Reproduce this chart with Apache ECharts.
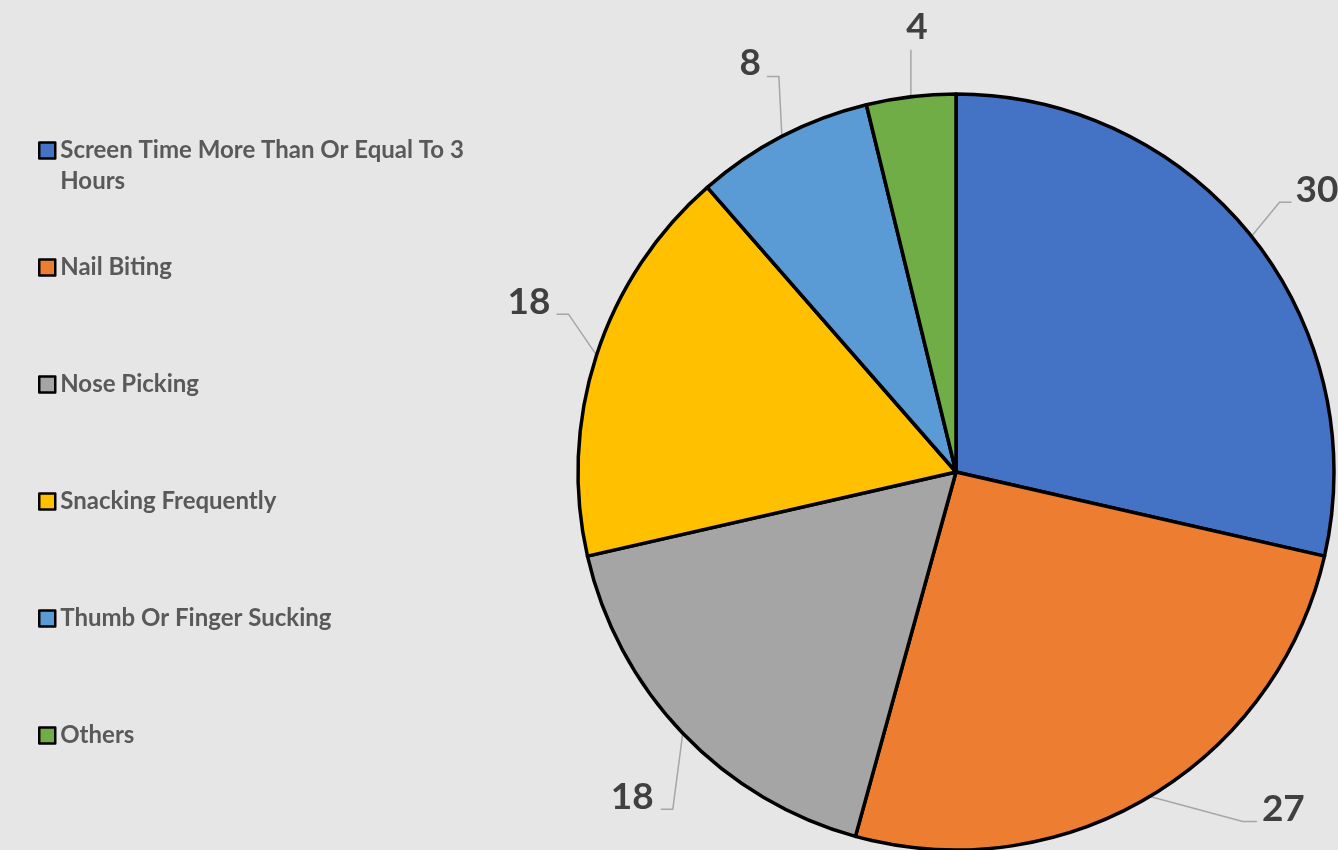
<!DOCTYPE html>
<html>
<head>
<meta charset="utf-8">
<script src="https://cdn.jsdelivr.net/npm/echarts@6/dist/echarts.min.js"></script>
<style>
html,body{margin:0;padding:0;background:#e6e6e6;}
#chart{width:1338px;height:850px;}
</style>
</head>
<body>
<div id="chart"></div>
<script>
// ---- data ----
const categories = [
  'Screen Time More Than Or Equal To 3 Hours',
  'Nail Biting',
  'Nose Picking',
  'Snacking Frequently',
  'Thumb Or Finger Sucking',
  'Others'
];
const values = [30, 27, 18, 18, 8, 4];
const colors = ['#4472C4', '#ED7D31', '#A5A5A5', '#FFC000', '#5B9BD5', '#70AD47'];

// label leader-line styling: knee offset from slice edge, horizontal tail, text offset, alignment
const labelStyleOffsets = [
  {knee: [28, -34], tail: 12, text: [4, -12], align: 'left'},
  {knee: [93, 25], tail: 14, text: [5, -12], align: 'left'},
  {knee: [-10, 76], tail: -12, text: [-7, -12], align: 'right'},
  {knee: [-28, -41], tail: -12, text: [-6, -12], align: 'right'},
  {knee: [-3, -60], tail: -12, text: [-6, -13], align: 'right'},
  {knee: [0, -47], tail: 0, text: [6, -23], align: 'center'}
];

const LH = 31;
const chart = echarts.init(document.getElementById('chart'), null, {renderer: 'canvas'});
chart.setOption({
  backgroundColor: '#e6e6e6',
  animation: false,
  color: colors,
  legend: {
    orient: 'vertical',
    left: 38,
    top: 104,
    padding: 0,
    itemGap: 24,
    itemWidth: 16,
    itemHeight: 16,
    icon: 'rect',
    itemStyle: {borderColor: '#000', borderWidth: 2.5},
    selectedMode: false,
    // a blank first line keeps every item three lines tall, so the icon sits beside the first text line
    formatter: function (name) {
      return name === categories[0] ? '\n' + name : '\n' + name + '\n\u00a0';
    },
    textStyle: {
      fontFamily: 'Lato',
      fontWeight: 'bold',
      fontSize: 24,
      color: '#595959',
      lineHeight: LH,
      width: 430,
      overflow: 'break'
    },
    data: categories
  },
  series: [{
    type: 'pie',
    center: [956, 472],
    radius: 378,
    startAngle: 90,
    clockwise: true,
    avoidLabelOverlap: false,
    emphasis: {disabled: true},
    itemStyle: {borderColor: '#000', borderWidth: 3.5},
    label: {
      show: true,
      position: 'outside',
      formatter: '{c}',
      fontFamily: 'Lato',
      fontWeight: 'bold',
      fontSize: 37,
      color: '#404040'
    },
    labelLine: {
      show: true,
      length: 20,
      length2: 10,
      lineStyle: {color: '#a6a6a6', width: 1.5}
    },
    labelLayout: function (params) {
      const o = labelStyleOffsets[params.dataIndex];
      const pts = params.labelLinePoints;
      if (!pts || !o) return {};
      const edge = pts[0];
      const knee = [edge[0] + o.knee[0], edge[1] + o.knee[1]];
      const end = [knee[0] + o.tail, knee[1]];
      return {
        x: end[0] + o.text[0],
        y: end[1] + o.text[1],
        align: o.align,
        verticalAlign: 'middle',
        labelLinePoints: [edge, knee, end]
      };
    },
    data: categories.map((c, i) => ({name: c, value: values[i]}))
  }]
});
</script>
</body>
</html>
